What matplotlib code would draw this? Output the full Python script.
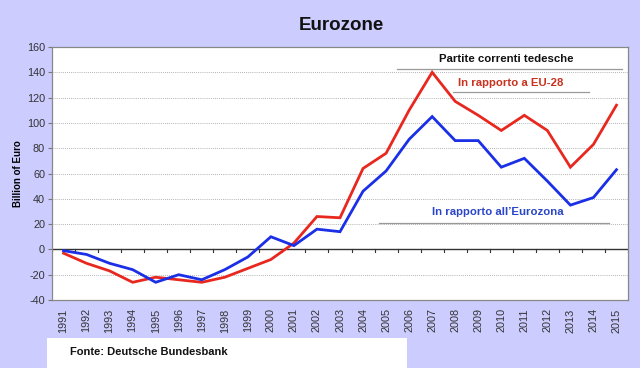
import matplotlib
matplotlib.use("Agg")
import matplotlib.pyplot as plt
from matplotlib.patches import Rectangle

years = [str(y) for y in range(1991, 2016)]
eu28 = [-3, -11, -17, -26, -22, -24, -26, -22, -15, -8, 5, 26, 25, 64, 76, 110, 140,
        117, 106, 94, 106, 94, 65, 83, 114]
eurozone = [-1, -4, -11, -16, -26, -20, -24, -16, -6, 10, 3, 16, 14, 46, 62, 87, 105,
            86, 86, 65, 72, 54, 35, 41, 63]
yticks = list(range(-40, 161, 20))

plt.rcParams['font.family'] = ['Liberation Sans', 'DejaVu Sans']

bg = '#CCCCFF'
fig = plt.figure(figsize=(6.4, 3.68), dpi=100, facecolor=bg)
ax = fig.add_axes([52/640, 68/368, 576/640, 253/368])
ax.set_facecolor('white')

x = list(range(len(years)))
ax.plot(x, eu28, color='#E8281E', lw=2.0, solid_joinstyle='miter', zorder=3)
ax.plot(x, eurozone, color='#1A2FE6', lw=2.0, solid_joinstyle='miter', zorder=3)

ax.set_xlim(-0.5, len(years) - 0.5)
ax.set_ylim(-40, 160)
ax.set_yticks(yticks)
ax.set_yticklabels([str(v) for v in yticks], fontsize=7.8, color='#333333')
ax.set_xticks(x)
ax.set_xticklabels(years, rotation=90, fontsize=7.8, color='#333333')
ax.tick_params(axis='x', length=0, pad=6)
ax.tick_params(axis='y', length=3, width=0.8, color='#777777', pad=2)

for v in yticks:
    if v not in (0, -40, 160):
        ax.axhline(v, color='#999999', lw=0.6, ls=(0, (1, 1.5)), zorder=1)
ax.axhline(0, color='#333333', lw=1.0, zorder=2)
for b in range(len(years) + 1):
    ax.plot([b - 0.5, b - 0.5], [0, -1.8], color='#333333', lw=0.8, zorder=2)

for s in ax.spines.values():
    s.set_color('#888888')
    s.set_linewidth(0.9)

ax.set_ylabel('Billion of Euro', fontsize=7, fontweight='bold', labelpad=3)

fig.text(341/640, 1 - 25/368, 'Eurozone', ha='center', va='center', fontsize=13.5,
         fontweight='bold', color='#111111')

def axf(px, py):
    return ((px - 52) / 576, (368 - py - 68) / 253)

ax.text(*axf(506, 59), 'Partite correnti tedesche', transform=ax.transAxes,
        ha='center', va='center', fontsize=8.2, fontweight='bold', color='#111111')
ax.plot([axf(397, 69)[0], axf(622, 69)[0]], [axf(397, 69)[1]] * 2, transform=ax.transAxes,
        color='#999999', lw=0.9)
ax.text(*axf(511, 83), 'In rapporto a EU-28', transform=ax.transAxes,
        ha='center', va='center', fontsize=8.2, fontweight='bold', color='#C8321E')
ax.plot([axf(453, 92)[0], axf(589, 92)[0]], [axf(453, 92)[1]] * 2, transform=ax.transAxes,
        color='#999999', lw=0.9)
ax.text(*axf(498, 212), 'In rapporto all\u2019Eurozona', transform=ax.transAxes,
        ha='center', va='center', fontsize=8.2, fontweight='bold', color='#2A45C8')
ax.plot([axf(379, 223)[0], axf(609, 223)[0]], [axf(379, 223)[1]] * 2, transform=ax.transAxes,
        color='#999999', lw=0.9)

fig.patches.append(Rectangle((47/640, 0), 360/640, 30/368, transform=fig.transFigure,
                             facecolor='white', edgecolor='none', zorder=0))
fig.text(70/640, 1 - 352/368, 'Fonte: Deutsche Bundesbank', ha='left', va='center',
         fontsize=8, fontweight='bold', color='#111111')

fig.savefig('out.png', dpi=100, facecolor=bg)
